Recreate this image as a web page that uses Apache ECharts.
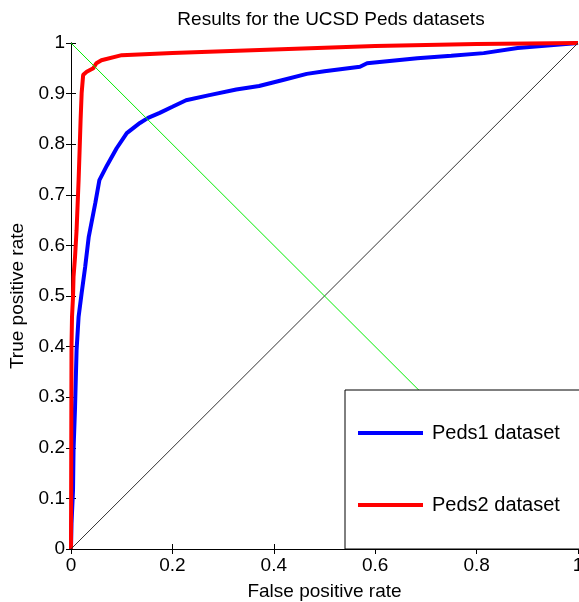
<!DOCTYPE html>
<html>
<head>
<meta charset="utf-8">
<script src="https://cdn.jsdelivr.net/npm/echarts@6/dist/echarts.min.js"></script>
<style>
  html, body { margin: 0; padding: 0; background: #fff; }
  #chart { width: 579px; height: 602px; }
</style>
</head>
<body>
<div id="chart"></div>
<script>
// ROC points
const peds1Fpr = [0, 0.001, 0.004, 0.005, 0.008, 0.011, 0.015, 0.021, 0.028, 0.035, 0.048, 0.056, 0.071, 0.09, 0.11, 0.136, 0.152, 0.175, 0.2, 0.227, 0.273, 0.326, 0.371, 0.418, 0.465, 0.5, 0.57, 0.584, 0.683, 0.75, 0.814, 0.881, 0.94, 1]
const peds1Tpr = [0, 0.05, 0.117, 0.196, 0.281, 0.393, 0.459, 0.506, 0.558, 0.617, 0.684, 0.729, 0.758, 0.792, 0.822, 0.842, 0.852, 0.862, 0.874, 0.887, 0.897, 0.908, 0.915, 0.927, 0.939, 0.944, 0.953, 0.96, 0.97, 0.975, 0.98, 0.99, 0.995, 1]

const peds2Fpr = [0, 0.001, 0.002, 0.004, 0.005, 0.008, 0.011, 0.015, 0.017, 0.019, 0.021, 0.024, 0.031, 0.044, 0.05, 0.06, 0.1, 0.2, 0.372, 0.6, 0.8, 1]
const peds2Tpr = [0, 0.4, 0.459, 0.499, 0.538, 0.578, 0.63, 0.729, 0.789, 0.85, 0.901, 0.937, 0.943, 0.95, 0.96, 0.966, 0.976, 0.98, 0.986, 0.994, 0.998, 1]

const chanceLine = [[0, 0], [1, 1]]
const crossLine = [[0, 1], [1, 0]]

const seriesNames = ['Peds1 dataset', 'Peds2 dataset']
const font = '"Liberation Sans", Arial, Helvetica, sans-serif'

const zip = (xs, ys) => xs.map((x, i) => [x, ys[i]])

const chart = echarts.init(document.getElementById('chart'))

function axis(extra) {
  return Object.assign({
    type: 'value',
    min: 0,
    max: 1,
    axisLine: { show: true, lineStyle: { color: '#000', width: 1 } },
    axisTick: { show: true, inside: true, length: 5, lineStyle: { color: '#000' } },
    splitLine: { show: false },
    axisLabel: { color: '#000', fontSize: 19, fontFamily: font }
  }, extra)
}

chart.setOption({
  animation: false,
  backgroundColor: '#fff',
  title: {
    text: 'Results for the UCSD Peds datasets',
    left: 326,
    textAlign: 'center',
    top: 5,
    textStyle: { color: '#000', fontSize: 19, fontWeight: 'normal', fontFamily: font }
  },
  grid: { left: 71, right: 1, top: 43, bottom: 53, containLabel: false, outerBoundsMode: 'none' },
  legend: {
    data: seriesNames,
    orient: 'vertical',
    left: 345,
    top: 390,
    padding: [33, 22, 34, 13],
    itemGap: 52,
    itemWidth: 65,
    itemHeight: 4,
    icon: 'rect',
    backgroundColor: '#fff',
    borderColor: '#000',
    borderWidth: 1,
    borderRadius: 0,
    textStyle: { color: '#000', fontSize: 20, fontFamily: font, padding: [0, 0, 0, 4] }
  },
  xAxis: [
    axis({
      interval: 0.2,
      name: 'False positive rate',
      nameLocation: 'middle',
      nameGap: 33,
      nameTextStyle: { color: '#000', fontSize: 19, fontFamily: font },
      axisLabel: { color: '#000', fontSize: 19, fontFamily: font, margin: 7 }
    }),
    axis({ position: 'top', interval: 0.2, axisLabel: { show: false } })
  ],
  yAxis: [
    axis({
      interval: 0.1,
      name: 'True positive rate',
      nameLocation: 'middle',
      nameGap: 40,
      nameTextStyle: { color: '#000', fontSize: 19, fontFamily: font },
      axisLabel: { color: '#000', fontSize: 19, fontFamily: font, margin: 6 }
    }),
    axis({ position: 'right', interval: 0.1, axisLabel: { show: false } })
  ],
  series: [
    {
      name: seriesNames[0],
      type: 'line',
      data: zip(peds1Fpr, peds1Tpr),
      showSymbol: false,
      lineStyle: { color: '#0000ff', width: 4 },
      itemStyle: { color: '#0000ff' }
    },
    {
      name: seriesNames[1],
      type: 'line',
      data: zip(peds2Fpr, peds2Tpr),
      showSymbol: false,
      lineStyle: { color: '#ff0000', width: 4 },
      itemStyle: { color: '#ff0000' }
    },
    {
      name: 'chance',
      type: 'line',
      data: chanceLine,
      showSymbol: false,
      silent: true,
      lineStyle: { color: '#333', width: 1 }
    },
    {
      name: 'cross',
      type: 'line',
      data: crossLine,
      showSymbol: false,
      silent: true,
      lineStyle: { color: '#00ee00', width: 1 }
    }
  ]
})
</script>
</body>
</html>
